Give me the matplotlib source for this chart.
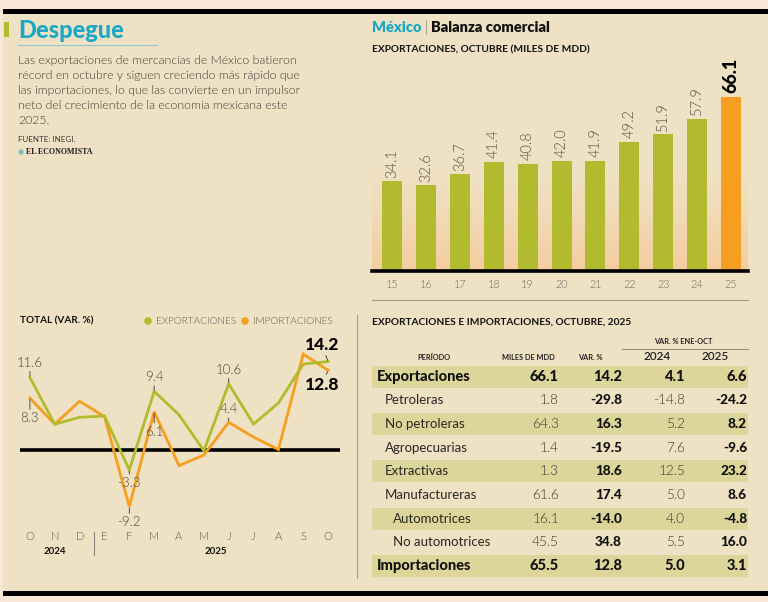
import numpy as np
import matplotlib
matplotlib.use('Agg')
import matplotlib.pyplot as plt
from matplotlib.patches import Rectangle, Circle

# barras: exportaciones de octubre, miles de mdd
anios = ['15', '16', '17', '18', '19', '20', '21', '22', '23', '24', '25']
export_octubre = [34.1, 32.6, 36.7, 41.4, 40.8, 42.0, 41.9, 49.2, 51.9, 57.9, 66.1]

# lineas: variacion anual %
meses = ['O', 'N', 'D', 'E', 'F', 'M', 'A', 'M', 'J', 'J', 'A', 'S', 'O']
var_export = [11.6, 4.1, 5.2, 5.4, -3.3, 9.4, 5.6, -0.2, 10.6, 4.1, 7.5, 13.8, 14.2]
var_import = [8.3, 4.1, 7.8, 5.3, -9.2, 6.1, -2.6, -0.9, 4.4, 2.0, 0.0, 15.4, 12.8]

# tabla
conceptos = ['Exportaciones', 'Petroleras', 'No petroleras', 'Agropecuarias', 'Extractivas',
	'Manufactureras', 'Automotrices', 'No automotrices', 'Importaciones']
niveles = [0, 1, 1, 1, 1, 1, 2, 2, 0]
miles_mdd = [66.1, 1.8, 64.3, 1.4, 1.3, 61.6, 16.1, 45.5, 65.5]
var_pct = [14.2, -29.8, 16.3, -19.5, 18.6, 17.4, -14.0, 34.8, 12.8]
var_2024 = [4.1, -14.8, 5.2, 7.6, 12.5, 5.0, 4.0, 5.5, 5.0]
var_2025 = [6.6, -24.2, 8.2, -9.6, 23.2, 8.6, -4.8, 16.0, 3.1]

VERDE = '#B2BB2E'
NARANJA = '#F59E1F'
TURQUESA = '#1BA7C5'
FONDO = '#EFE2C4'
BANDA = '#DCD69B'
LIGERA = 300

plt.rcParams['font.family'] = ['Lato', 'DejaVu Sans']

W, H = 768, 602
fig = plt.figure(figsize=(W / 100, H / 100), dpi=100)
fig.patch.set_facecolor('#F8E6D6')

ov = fig.add_axes([0, 0, 1, 1])
ov.set_xlim(0, W)
ov.set_ylim(H, 0)
ov.axis('off')

def px(x, y, w, h):
	return [x / W, 1 - (y + h) / H, w / W, h / H]

ov.add_patch(Rectangle((3, 13), W - 3, 578, color=FONDO, lw=0))
ov.add_patch(Rectangle((3, 9), W - 3, 4.5, color='black', lw=0))
ov.add_patch(Rectangle((3, 591), W - 3, 5, color='black', lw=0))

# bloque izquierdo
ov.add_patch(Rectangle((4, 22), 5, 15, color=VERDE, lw=0))
ov.text(18, 38.5, 'Despegue', color=TURQUESA, fontsize=17, fontweight='black', va='baseline')
ov.plot([18, 157], [44.5, 44.5], color='#8FCAD4', lw=0.8)
texto = ['Las exportaciones de mercancías de México batieron',
	'récord en octubre y siguen creciendo más rápido que',
	'las importaciones, lo que las convierte en un impulsor',
	'neto del crecimiento de la economía mexicana este',
	'2025.']
for i, linea in enumerate(texto):
	ov.text(18, 61 + i * 14.8, linea, fontsize=8.8, fontweight=LIGERA, color='#3C3A36', va='center')
ov.text(18, 140, 'FUENTE: INEGI.', fontsize=5.8, color='#3C3A36', va='center')
ov.add_patch(Circle((21, 152), 2.6, color='#7FB7C4', lw=0))
ov.text(25.5, 152.5, 'EL ECONOMISTA', fontsize=5.8, fontweight='bold', family='Liberation Serif',
	color='#222', va='center')

# encabezado derecho
ov.text(372, 32, 'México', color=TURQUESA, fontsize=10.5, fontweight='heavy', va='baseline')
ov.text(424.5, 32, '|', color='#666', fontsize=10.5, fontweight=LIGERA, va='baseline')
ov.text(431, 32, 'Balanza comercial', color='#111', fontsize=10.5, fontweight='heavy', va='baseline')
ov.text(372, 50, 'EXPORTACIONES, OCTUBRE (MILES DE MDD)', fontsize=7.3, fontweight='bold',
	color='#111', va='center')

# barras
ax_b = fig.add_axes(px(372, 60, 376, 211))
ax_b.patch.set_alpha(0)
x_b = np.arange(len(anios))
ax_b.set_xlim(-0.59, 10.5)
ax_b.set_ylim(0, 80.2)
grad = np.zeros((100, 2, 4))
grad[:, :, :3] = np.array([245, 200, 150]) / 255
grad[:, :, 3] = np.linspace(0.85, 0, 100)[:, None] ** 1.3
ax_b.imshow(grad, extent=(-0.59, 10.5, 0, 40), origin='lower', aspect='auto', zorder=0)
colores = [VERDE] * (len(anios) - 1) + [NARANJA]
ax_b.bar(x_b, export_octubre, width=0.59, color=colores, zorder=2)
ax_b.axhline(0, color='black', lw=2.6, zorder=3, clip_on=False)
for i, v in enumerate(export_octubre):
	if i == len(anios) - 1:
		ax_b.text(i, v + 1.4, f'{v:.1f}', rotation=90, ha='center', va='bottom', fontsize=13,
			fontweight='black', color='black')
	else:
		ax_b.text(i, v + 1.4, f'{v:.1f}', rotation=90, ha='center', va='bottom', fontsize=10.5,
			fontweight=LIGERA, color='#57544E')
ax_b.set_xticks(x_b)
ax_b.set_xticklabels(anios, fontsize=7.8, color='#6F6B62', fontweight=LIGERA)
ax_b.tick_params(axis='x', length=0, pad=6)
ax_b.set_yticks([])
for s in ax_b.spines.values():
	s.set_visible(False)

ov.plot([372, 748], [300, 300], color='#A89C86', lw=0.8)

# lineas
ov.text(20, 321, 'TOTAL (VAR. %)', fontsize=7.2, fontweight='bold', color='#111', va='center')
ov.add_patch(Circle((148, 321), 3.8, color=VERDE, lw=0))
ov.text(156, 321, 'EXPORTACIONES', fontsize=7.3, fontweight=LIGERA, color='#5F5B53', va='center')
ov.add_patch(Circle((245, 321), 3.8, color=NARANJA, lw=0))
ov.text(253, 321, 'IMPORTACIONES', fontsize=7.3, fontweight=LIGERA, color='#5F5B53', va='center')

ax_l = fig.add_axes(px(20, 330, 320, 200))
ax_l.patch.set_alpha(0)
x_l = np.arange(len(meses))
ax_l.set_xlim(-0.40, 12.48)
ax_l.set_ylim(-13.0, 19.3)
ax_l.axhline(0, color='black', lw=2.6, zorder=1)
ax_l.plot(x_l, var_import, color=NARANJA, lw=2, zorder=2, solid_joinstyle='miter')
ax_l.plot(x_l, var_export, color=VERDE, lw=2, zorder=3, solid_joinstyle='miter')
ax_l.axis('off')

etiquetas = [
	(var_export, 0, 6.5, 0, False),
	(var_import, 0, -10, 0, False),
	(var_export, 5, 6, 0, False),
	(var_import, 5, -10, 0, False),
	(var_export, 4, -5, 0, False),
	(var_import, 4, -7, 0, False),
	(var_export, 8, 6, 0, False),
	(var_import, 8, 5, 0, False),
	(var_export, 12, 6.5, -4.5, True),
	(var_import, 12, -5, -4.5, True),
]
for serie, i, dy, dx, negrita in etiquetas:
	v = serie[i]
	ax_l.annotate(f'{v:.1f}', xy=(i, v), xytext=(dx, dy), textcoords='offset points',
		ha='center', va='bottom' if dy > 0 else 'top',
		fontsize=12.5 if negrita else 9.5, fontweight='black' if negrita else LIGERA,
		color='black' if negrita else '#46433C', zorder=5,
		arrowprops=dict(arrowstyle='-', lw=0.6, color='#333', shrinkA=0, shrinkB=1))

for i, m in enumerate(meses):
	xm = 30 + i * 24.83
	ov.text(xm, 537, m, fontsize=8, fontweight=LIGERA, color='#5F5B53', ha='center', va='center')
ov.text(30 + 1 * 24.83, 551, '2024', fontsize=7, fontweight='bold', color='#111', ha='center', va='center')
ov.text(30 + 7.5 * 24.83, 551, '2025', fontsize=7, fontweight='bold', color='#111', ha='center', va='center')
ov.plot([93.5, 93.5], [532, 555], color='#8A8276', lw=0.8)
ov.plot([357, 357], [315, 578], color='#A89C86', lw=0.8)

# tabla
ov.text(372, 322, 'EXPORTACIONES E IMPORTACIONES, OCTUBRE, 2025', fontsize=7.3, fontweight='bold',
	color='#111', va='center')
ov.text(683, 342, 'VAR. % ENE-OCT', fontsize=5.3, fontweight='bold', color='#222', ha='center', va='center')
ov.plot([622, 748], [348.5, 348.5], color='#9A9080', lw=0.8)
ov.text(434, 357.5, 'PERÍODO', fontsize=5.3, fontweight='bold', color='#222', ha='center', va='center')
ov.text(528, 357.5, 'MILES DE MDD', fontsize=5.3, fontweight='bold', color='#222', ha='center', va='center')
ov.text(590, 357.5, 'VAR. %', fontsize=5.3, fontweight='bold', color='#222', ha='center', va='center')
ov.text(657, 357, '2024', fontsize=8.5, fontweight='semibold', color='#222', ha='center', va='center')
ov.text(715, 357, '2025', fontsize=8.5, fontweight='semibold', color='#222', ha='center', va='center')

col_x = [559, 622, 685, 747]
for r, nombre in enumerate(conceptos):
	yc = 376.8 + r * 23.65
	if r % 2 == 0:
		ov.add_patch(Rectangle((372, yc - 11), 376, 22, color=BANDA, lw=0, zorder=1))
	nivel = niveles[r]
	valores = [miles_mdd[r], var_pct[r], var_2024[r], var_2025[r]]
	if nivel == 0:
		ov.text(377, yc, nombre, fontsize=10.5, fontweight='black', color='#111', va='center', zorder=2)
		pesos = ['black'] * 4
		tam = 10.5
	else:
		ov.text(377 + 8 * nivel, yc, nombre, fontsize=9.5, fontweight='normal', color='#2A2824',
			va='center', zorder=2)
		pesos = [LIGERA, 'black', LIGERA, 'black']
		tam = 9.8
	for xc, v, p in zip(col_x, valores, pesos):
		ov.text(xc, yc, f'{v:.1f}', fontsize=tam, fontweight=p, ha='right', va='center',
			color='#111' if p == 'black' else '#3C3A36', zorder=2)

fig.savefig('out.png', dpi=100, facecolor=fig.get_facecolor())
